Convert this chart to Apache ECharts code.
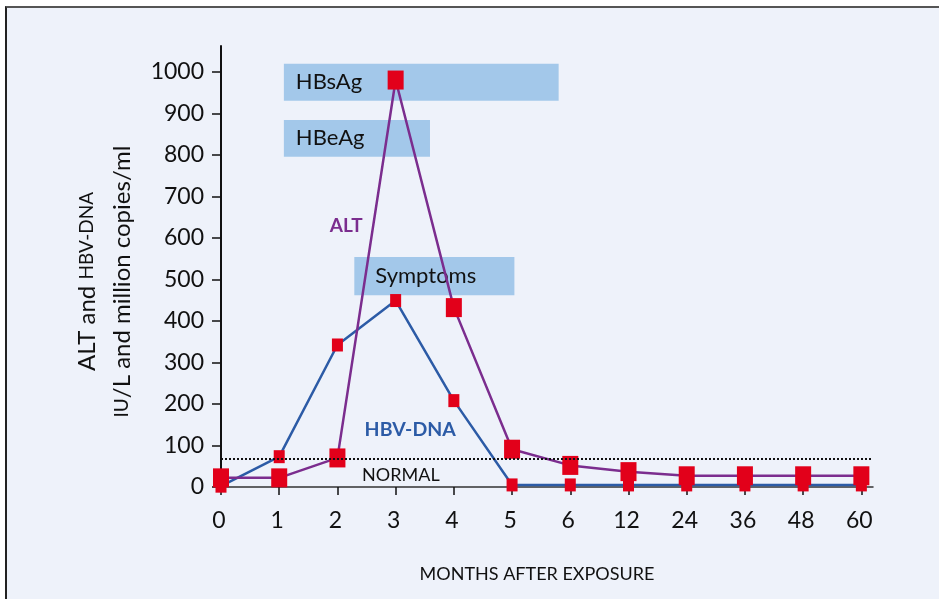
<!DOCTYPE html>
<html><head><meta charset="utf-8">
<script src="https://cdn.jsdelivr.net/npm/echarts@6/dist/echarts.min.js"></script>
<style>
html,body{margin:0;padding:0;background:#fff;overflow:hidden;}
#frame{position:absolute;left:5px;top:6px;width:934px;height:593px;background:#eef2fa;border-top:2px solid #555;border-left:2px solid #222;box-sizing:border-box;}
#chart{position:absolute;left:0;top:0;width:939px;height:599px;}
</style></head><body>
<div id="frame"></div><div id="chart"></div>
<script>
// ---- data ----
const categories = ['0','1','2','3','4','5','6','12','24','36','48','60'];
const altValues = [22, 22, 70, 980, 432, 91, 52, 37, 27, 27, 27, 27];
const hbvValues = [2, 73, 342, 449, 208, 5, 5, 5, 5, 5, 5, 5];
const yTicks = [0, 100, 200, 300, 400, 500, 600, 700, 800, 900, 1000];
const normalLevel = 67;
const phaseNames = ['HBsAg', 'HBeAg', 'Symptoms'];
const phaseStart = [1.08, 1.08, 2.29];
const phaseEnd = [5.8, 3.59, 5.04];
const phaseLow = [930, 795, 462];
const phaseHigh = [1019, 884, 554];

const xMax = 11.2, yMax = 1062;
const FONT = 'Lato';
const RED = '#e2001a', PURPLE = '#7b2d8e', BLUE = '#2c5ba6';
const xIdx = categories.map((c, i) => i);
const altData = altValues.map((v, i) => [i, v]);
const hbvData = hbvValues.map((v, i) => [i, v]);

const chart = echarts.init(document.getElementById('chart'));
chart.setOption({
  backgroundColor: 'transparent',
  animation: false,
  textStyle: { fontFamily: FONT },
  grid: { left: 221, right: 66, top: 46, bottom: 112 },
  xAxis: {
    type: 'value', min: 0, max: xMax,
    name: 'MONTHS AFTER EXPOSURE', nameLocation: 'middle', nameGap: 78,
    nameTextStyle: { fontFamily: FONT, fontSize: 18, color: '#111', padding: [0, 20, 0, 0] },
    axisLine: { lineStyle: { color: '#333', width: 1.5 } },
    axisTick: { customValues: xIdx, length: 8, lineStyle: { color: '#111', width: 1.5 } },
    axisLabel: { customValues: xIdx, formatter: v => categories[Math.round(v)], fontSize: 23, color: '#111', margin: 22, padding: [0, 4, 0, 0], fontFamily: FONT },
    splitLine: { show: false }
  },
  yAxis: {
    type: 'value', min: 0, max: yMax,
    name: 'ALT and {s|HBV-DNA}\n{s|IU}/L and million copies/ml',
    nameLocation: 'middle', nameRotate: 90, nameGap: 58,
    nameTextStyle: { fontFamily: FONT, fontSize: 24, color: '#111', lineHeight: 35, padding: [0, 30, 0, 0],
      rich: { s: { fontFamily: FONT, fontSize: 19, color: '#111', lineHeight: 35 } } },
    axisLine: { show: true, lineStyle: { color: '#111', width: 2 } },
    axisTick: { show: true, customValues: yTicks, length: 9, lineStyle: { color: '#111', width: 1.5 } },
    axisLabel: { customValues: yTicks, formatter: v => String(v), fontSize: 23, color: '#111', margin: 17, fontFamily: FONT },
    splitLine: { show: false }
  },
  series: [
    {
      type: 'line', data: [], z: 1, silent: true,
      markArea: {
        silent: true,
        itemStyle: { color: '#a3c8ea' },
        label: { show: true, position: 'insideLeft', color: '#111', fontSize: 22, fontFamily: FONT },
        data: phaseNames.map((n, i) => [
          { name: n, coord: [phaseStart[i], phaseHigh[i]], label: { distance: i === 2 ? 21 : 12 } },
          { coord: [phaseEnd[i], phaseLow[i]] }
        ])
      },
      markLine: {
        silent: true, symbol: 'none',
        lineStyle: { color: '#111', type: [2, 2], width: 2 },
        label: { show: false },
        data: [[{ coord: [0, normalLevel] }, { coord: [xMax, normalLevel] }]]
      },
      markPoint: {
        silent: true, symbol: 'rect', symbolSize: 1, itemStyle: { color: 'transparent' },
        data: [{ coord: [3.09, 29], value: 'NORMAL',
          label: { show: true, position: 'inside', formatter: 'NORMAL', color: '#111', fontSize: 18, fontFamily: FONT } }]
      }
    },
    {
      name: 'HBV-DNA', type: 'line', data: hbvData, z: 2, showSymbol: false,
      lineStyle: { color: BLUE, width: 2.5 },
      markPoint: {
        silent: true, symbol: 'rect', symbolSize: 1, itemStyle: { color: 'transparent' },
        data: [{ coord: [3.25, 137], value: 'HBV-DNA',
          label: { show: true, position: 'inside', formatter: 'HBV-DNA', color: BLUE, fontSize: 19.5, fontWeight: 'bold', fontFamily: FONT } }]
      }
    },
    {
      name: 'ALT', type: 'line', data: altData, z: 2, showSymbol: false,
      lineStyle: { color: PURPLE, width: 2.5 },
      markPoint: {
        silent: true, symbol: 'rect', symbolSize: 1, itemStyle: { color: 'transparent' },
        data: [{ coord: [2.15, 629], value: 'ALT',
          label: { show: true, position: 'inside', formatter: 'ALT', color: PURPLE, fontSize: 19, fontWeight: 'bold', fontFamily: FONT } }]
      }
    },
    {
      type: 'scatter', data: hbvData, z: 3, symbol: 'rect', symbolSize: [11, 13],
      itemStyle: { color: RED, opacity: 1 }
    },
    {
      type: 'scatter', data: altData, z: 4, symbol: 'rect', symbolSize: [16, 19],
      itemStyle: { color: RED, opacity: 1 }
    }
  ]
});
</script>
</body></html>
